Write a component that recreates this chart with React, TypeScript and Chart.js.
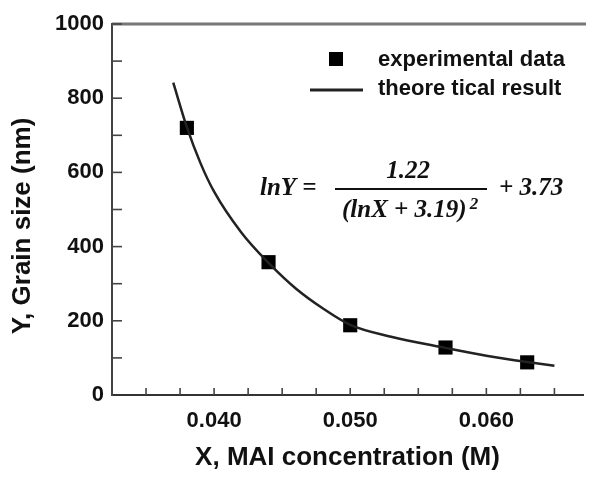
import React, { useEffect, useRef } from "react";
import { Chart, registerables } from "chart.js";

Chart.register(...registerables);

// Experimental data (MAI concentration in M, grain size in nm)
const expX = [0.038, 0.044, 0.05, 0.057, 0.063];
const expY = [720, 358, 188, 128, 88];

// Theoretical curve
const curveX = [0.037, 0.038, 0.039, 0.04, 0.042, 0.044, 0.046, 0.048, 0.05, 0.053, 0.057, 0.06, 0.063, 0.065];
const curveY = [842, 722, 625, 548, 438, 356, 287, 233, 189, 157, 127, 106, 89, 79];

const xMajorLabels = [0.04, 0.05, 0.06];
const yMajorLabels = [0, 200, 400, 600, 800, 1000];

const xTitle = "X, MAI concentration (M)";
const yTitle = "Y, Grain size (nm)";
const legendLabels = ["experimental data", "theore tical result"];

const SANS = "'Liberation Sans', Arial, sans-serif";
const SERIF = "'Liberation Serif', 'Times New Roman', serif";

const decorPlugin = {
  id: "decor",
  beforeDatasetsDraw(chart: any) {
    const { ctx, chartArea } = chart;
    const xs = chart.scales.x;
    const ys = chart.scales.y;
    ctx.save();
    // top border
    ctx.strokeStyle = "#777";
    ctx.lineWidth = 3;
    ctx.beginPath();
    ctx.moveTo(chartArea.left, chartArea.top);
    ctx.lineTo(chartArea.right + 3, chartArea.top);
    ctx.stroke();
    // inward ticks
    ctx.strokeStyle = "#444";
    ctx.lineWidth = 1.6;
    xs.ticks.forEach((t: any) => {
      const p = xs.getPixelForValue(t.value);
      ctx.beginPath();
      ctx.moveTo(p, chartArea.bottom);
      ctx.lineTo(p, chartArea.bottom - 7);
      ctx.stroke();
    });
    ys.ticks.forEach((t: any) => {
      const p = ys.getPixelForValue(t.value);
      if (t.value === 0) return;
      ctx.beginPath();
      ctx.moveTo(chartArea.left, p);
      ctx.lineTo(chartArea.left + 10, p);
      ctx.stroke();
    });
    ctx.restore();
  },
  afterDraw(chart: any) {
    const { ctx } = chart;
    ctx.save();
    // Y title
    ctx.fillStyle = "#111";
    ctx.font = `bold 26px ${SANS}`;
    ctx.textAlign = "center";
    ctx.textBaseline = "middle";
    ctx.translate(23, 226);
    ctx.rotate(-Math.PI / 2);
    ctx.fillText(yTitle, 0, 0);
    ctx.restore();

    // legend
    ctx.save();
    const ds0 = chart.data.datasets[1];
    const ds1 = chart.data.datasets[0];
    ctx.fillStyle = ds0.backgroundColor;
    ctx.fillRect(329, 52, 14, 14);
    ctx.strokeStyle = ds1.borderColor;
    ctx.lineWidth = 3;
    ctx.beginPath();
    ctx.moveTo(310, 90);
    ctx.lineTo(363, 90);
    ctx.stroke();
    ctx.fillStyle = "#111";
    ctx.font = `bold 22px ${SANS}`;
    ctx.textAlign = "left";
    ctx.textBaseline = "middle";
    ctx.fillText(legendLabels[0], 378, 60);
    ctx.fillText(legendLabels[1], 378, 89);
    ctx.restore();

    // equation
    ctx.save();
    ctx.fillStyle = "#111";
    ctx.font = `bold italic 25px ${SERIF}`;
    ctx.textBaseline = "alphabetic";
    ctx.textAlign = "left";
    ctx.fillText("lnY =", 260, 195);
    ctx.textAlign = "center";
    ctx.fillText("1.22", 408, 178);
    ctx.strokeStyle = "#111";
    ctx.lineWidth = 2;
    ctx.beginPath();
    ctx.moveTo(335, 189);
    ctx.lineTo(487, 189);
    ctx.stroke();
    ctx.textAlign = "left";
    ctx.fillText("(lnX + 3.19)", 342, 217);
    const w = ctx.measureText("(lnX + 3.19)").width;
    ctx.font = `bold italic 17px ${SERIF}`;
    ctx.fillText("2", 342 + w + 3, 209);
    ctx.font = `bold italic 25px ${SERIF}`;
    ctx.fillText("+ 3.73", 499, 195);
    ctx.restore();
  },
};

export default function App() {
  const canvasRef = useRef<HTMLCanvasElement | null>(null);

  useEffect(() => {
    document.body.style.margin = "0";
    const canvas = canvasRef.current;
    if (!canvas) return;
    const chart = new Chart(canvas, {
      type: "scatter",
      data: {
        datasets: [
          {
            label: legendLabels[1],
            data: curveX.map((x, i) => ({ x, y: curveY[i] })),
            showLine: true,
            borderColor: "#222",
            borderWidth: 2.5,
            pointRadius: 0,
            cubicInterpolationMode: "monotone",
          } as any,
          {
            label: legendLabels[0],
            data: expX.map((x, i) => ({ x, y: expY[i] })),
            showLine: false,
            pointStyle: "rect",
            pointRadius: 10,
            backgroundColor: "#000",
            borderColor: "#000",
            borderWidth: 0,
          } as any,
        ],
      },
      options: {
        responsive: false,
        animation: false,
        devicePixelRatio: 1,
        layout: { padding: { top: 24, right: 3, left: 0, bottom: 0 } },
        plugins: {
          legend: { display: false },
          tooltip: { enabled: false },
        },
        scales: {
          x: {
            type: "linear",
            min: 0.0325,
            max: 0.0671,
            afterFit: (s: any) => {
              s.height = 82;
            },
            grid: { display: true, drawOnChartArea: false, drawTicks: false },
            border: { display: true, color: "#333", width: 2 },
            ticks: {
              stepSize: 0.0025,
              includeBounds: false,
              autoSkip: false,
              maxRotation: 0,
              padding: 13,
              color: "#111",
              font: { family: SANS, size: 22, weight: "bold" },
              callback: (v: any) => {
                const n = Number(v);
                const hit = xMajorLabels.find((m) => Math.abs(m - n) < 1e-6);
                return hit !== undefined ? hit.toFixed(3) : "";
              },
            },
            title: {
              display: true,
              text: xTitle,
              color: "#111",
              font: { family: SANS, size: 26, weight: "bold" },
              padding: { top: 0, bottom: 4 },
            },
          },
          y: {
            type: "linear",
            min: 0,
            max: 1000,
            afterFit: (s: any) => {
              s.width = 112;
            },
            grid: { display: true, drawOnChartArea: false, drawTicks: false },
            border: { display: true, color: "#444", width: 2 },
            ticks: {
              stepSize: 100,
              autoSkip: false,
              padding: 8,
              color: "#111",
              font: { family: SANS, size: 22, weight: "bold" },
              callback: (v: any) => {
                const n = Number(v);
                return yMajorLabels.includes(n) ? String(n) : "";
              },
            },
          },
        },
      },
      plugins: [decorPlugin],
    } as any);
    return () => chart.destroy();
  }, []);

  return (
    <div style={{ width: 593, height: 477, position: "relative" }}>
      <canvas ref={canvasRef} width={593} height={477} style={{ display: "block" }} />
    </div>
  );
}
